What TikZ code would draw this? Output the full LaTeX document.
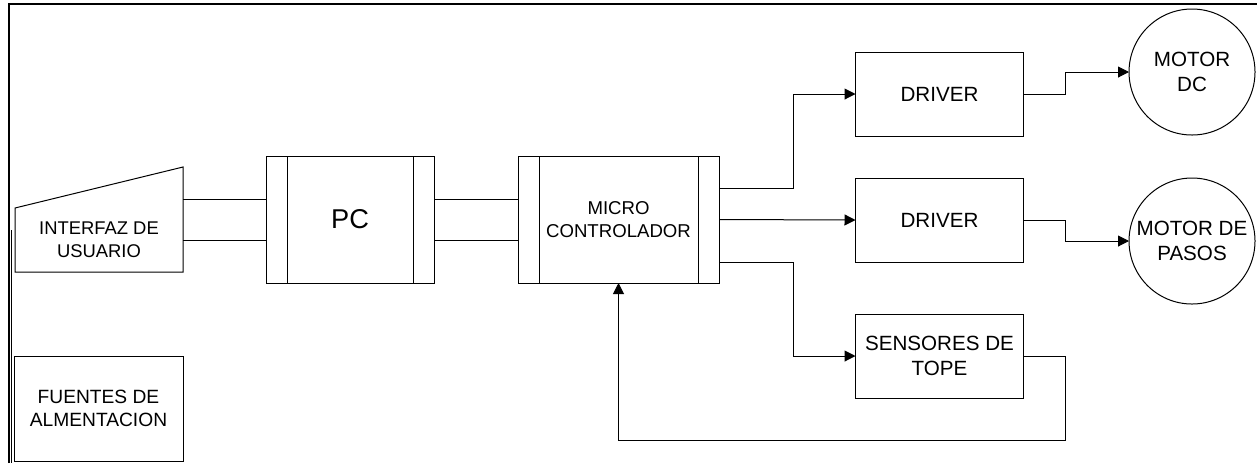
\documentclass[tikz,border=0pt]{standalone}
\usepackage{fontspec}
\setmainfont{Liberation Sans}
\usepackage{tikz}
\usetikzlibrary{arrows.meta}

\begin{document}
\begin{tikzpicture}[x=0.5pt, y=-0.5pt, line width=0.5pt,
        block/.style={draw, inner sep=0pt, outer sep=0pt, align=center, font=\fontsize{10.3}{12.8}\selectfont},
        motor/.style={block, circle, minimum size=63pt},
        arr/.style={-{Triangle[length=5.5pt, width=5.5pt]}}]
        \useasboundingbox (0,0) rectangle (1257,463);
        \draw[line width=1pt] (9,463) -- (9,4) -- (1257,4);
        \draw[line width=0.4pt] (11.5,230) -- (11.5,463);
        % bloques
        \node[block, draw=none, minimum width=84pt, minimum height=32pt, font=\fontsize{9.2}{11.6}\selectfont] (iface) at (99,240) {INTERFAZ DE\\USUARIO};
        \draw (iface.south west) -- (iface.south east) -- ([yshift=20.5pt]iface.north east) -- (iface.north west) -- cycle;
        \node[block, minimum width=84pt, minimum height=63.5pt, font=\fontsize{13.6}{16}\selectfont] (pc) at (350,219.5) {PC};
        \node[block, minimum width=100.5pt, minimum height=63.5pt, font=\fontsize{9.3}{11.6}\selectfont] (micro) at (618.5,219.5) {MICRO\\CONTROLADOR};
        \foreach \b in {pc,micro} {
          \draw ([xshift=10.5pt]\b.north west) -- ([xshift=10.5pt]\b.south west);
          \draw ([xshift=-10.5pt]\b.north east) -- ([xshift=-10.5pt]\b.south east);
        }
        \node[block, minimum width=84pt, minimum height=42pt] (drv1) at (939.5,94) {DRIVER};
        \node[block, minimum width=84pt, minimum height=42pt] (drv2) at (939.5,220) {DRIVER};
        \node[block, minimum width=84pt, minimum height=42pt] (sens) at (939.5,356) {SENSORES DE\\TOPE};
        \node[motor] (mdc) at (1192,72) {MOTOR\\DC};
        \node[motor] (mpp) at (1192,241) {MOTOR DE\\PASOS};
        \node[block, minimum width=84.5pt, minimum height=52.5pt, font=\fontsize{9.6}{11.6}\selectfont] (fuentes) at (98.5,408.5) {FUENTES DE\\ALMENTACION};
        % conexiones
        \draw (iface.east) -- ([yshift=-10.25pt]pc.west);
        \draw ([yshift=20.5pt]iface.east) -- ([yshift=10.25pt]pc.west);
        \draw ([yshift=10.25pt]pc.east) -- ([yshift=10.25pt]micro.west);
        \draw ([yshift=-10.25pt]pc.east) -- ([yshift=-10.25pt]micro.west);
        \draw[arr] ([yshift=15.75pt]micro.east) -- ++(74,0) |- (drv1.west);
        \draw[arr] (micro.east) -- (drv2.west);
        \draw[arr] ([yshift=-21.25pt]micro.east) -- ++(74,0) |- (sens.west);
        \draw[arr] (drv1.east) -- ++(42,0) |- (mdc.west);
        \draw[arr] (drv2.east) -- ++(42,0) |- (mpp.west);
        \draw[arr] (sens.east) -- ++(42,0) -- ++(0,84) -| (micro.south);
\end{tikzpicture}
\end{document}
